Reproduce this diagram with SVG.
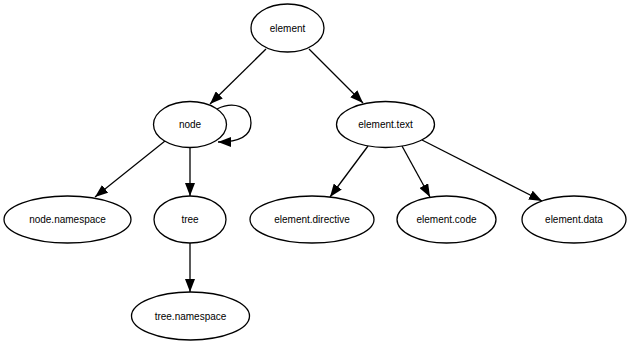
<svg xmlns="http://www.w3.org/2000/svg" width="632" height="347" viewBox="0 0 632 347">
  <style>
    .node ellipse { fill: #ffffff; stroke: #000000; stroke-width: 1.3; }
    .node text { font-family: "Liberation Sans", Arial, sans-serif; font-size: 10px; fill: #000000; text-anchor: middle; dominant-baseline: central; }
    .edges path { fill: none; stroke: #000000; stroke-width: 1.3; marker-end: url(#arrow); }
  </style>
  <defs>
    <marker id="arrow" viewBox="0 0 13 10" refX="13" refY="5" markerWidth="13" markerHeight="10" markerUnits="userSpaceOnUse" orient="auto">
      <path d="M0,0 L13,5 L0,10 z" fill="#000000"/>
    </marker>
  </defs>
  <rect width="632" height="347" fill="#ffffff"/>

  <!-- connectors -->
  <g class="edges">
    <path d="M266,49 L210,104"/>
    <path d="M309,49 L363,103"/>
    <path d="M217,109 C233,101 251,106 251,123 C251,137 238,142 218,142"/>
    <path d="M165,141 L95,197"/>
    <path d="M190,147 L190,196"/>
    <path d="M190,242 L190,292"/>
    <path d="M368,146 L330,197"/>
    <path d="M402,146 L430,197"/>
    <path d="M422,140 L542,201"/>
  </g>

  <!-- nodes -->
  <g id="element" class="node">
    <ellipse cx="287.5" cy="28" rx="36.5" ry="24"/>
    <text x="287.5" y="28">element</text>
  </g>
  <g id="node" class="node">
    <ellipse cx="190" cy="124.5" rx="36.5" ry="23"/>
    <text x="190" y="124.5">node</text>
  </g>
  <g id="element.text" class="node">
    <ellipse cx="385.5" cy="124.5" rx="49" ry="23"/>
    <text x="385.5" y="124.5">element.text</text>
  </g>
  <g id="node.namespace" class="node">
    <ellipse cx="67.5" cy="219.5" rx="63.5" ry="23.5"/>
    <text x="67.5" y="219.5">node.namespace</text>
  </g>
  <g id="tree" class="node">
    <ellipse cx="190" cy="219.5" rx="36" ry="23.5"/>
    <text x="190" y="219.5">tree</text>
  </g>
  <g id="element.directive" class="node">
    <ellipse cx="312" cy="219.5" rx="62" ry="23.5"/>
    <text x="312" y="219.5">element.directive</text>
  </g>
  <g id="element.code" class="node">
    <ellipse cx="446.5" cy="219.5" rx="49.5" ry="23.5"/>
    <text x="446.5" y="219.5">element.code</text>
  </g>
  <g id="element.data" class="node">
    <ellipse cx="574" cy="219.5" rx="52" ry="23.5"/>
    <text x="574" y="219.5">element.data</text>
  </g>
  <g id="tree.namespace" class="node">
    <ellipse cx="190.5" cy="316" rx="59" ry="24"/>
    <text x="190.5" y="316">tree.namespace</text>
  </g>
</svg>
